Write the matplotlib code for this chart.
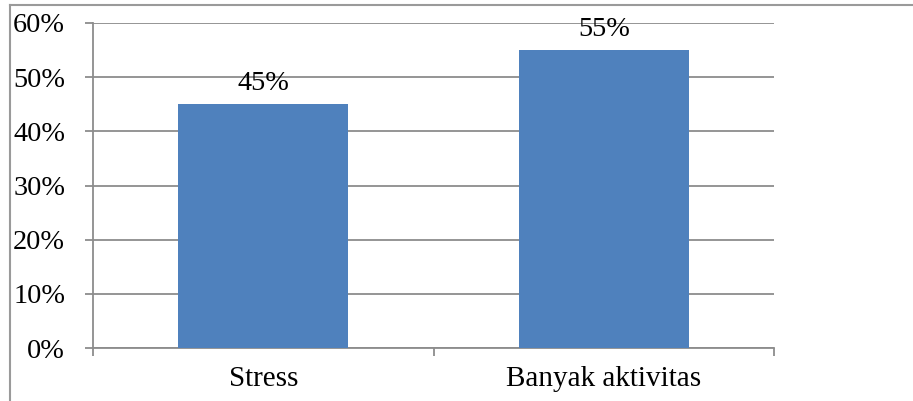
import matplotlib
matplotlib.use("Agg")
import matplotlib.pyplot as plt
from matplotlib.lines import Line2D
import numpy as np

categories = ["Stress", "Banyak aktivitas"]
values = [45, 55]
yticks = [0, 10, 20, 30, 40, 50, 60]

W, H = 913, 401
fig = plt.figure(figsize=(W / 100, H / 100), dpi=100)
plt.rcParams["font.family"] = ["Liberation Serif", "DejaVu Serif"]

ax = fig.add_axes([93 / W, 1 - 348 / H, 681 / W, 325 / H])

grid_c = "#8c8c8c"
bar_c = "#4f81bd"
fs = 20.3
fs_cat = 21

x = np.arange(len(categories))
ax.bar(x, values, width=0.5, color=bar_c, zorder=3)
for xi, v in zip(x, values):
    ax.text(xi, v + 2.6, f"{v}%", ha="center", va="baseline", fontsize=fs, color="black")

ax.set_xlim(-0.5, len(categories) - 0.5)
ax.set_ylim(0, 60)
ax.set_yticks(yticks)
ax.set_yticklabels([f"{t}%" for t in yticks], fontsize=fs)
ax.yaxis.grid(True, color=grid_c, linewidth=1.3, zorder=0)
ax.set_axisbelow(True)

# category labels between boundary ticks
ax.set_xticks(x)
ax.set_xticklabels(categories, fontsize=fs_cat)
ax.tick_params(axis="x", length=0, pad=13)
ax.set_xticks(np.arange(-0.5, len(categories)), minor=True)
ax.tick_params(axis="x", which="minor", length=6, width=1.3, color=grid_c, direction="out")
ax.tick_params(axis="y", length=6, width=1.3, color=grid_c, direction="out", pad=14)

for s in ["top", "right"]:
    ax.spines[s].set_visible(False)
for s in ["left", "bottom"]:
    ax.spines[s].set_color(grid_c)
    ax.spines[s].set_linewidth(1.3)

# outer frame
frame_c = "#9a9a9a"
fig.add_artist(Line2D([10 / W, 1], [1 - 5 / H, 1 - 5 / H], color=frame_c, linewidth=1.5,
                      transform=fig.transFigure))
fig.add_artist(Line2D([10 / W, 10 / W], [0, 1 - 5 / H], color=frame_c, linewidth=1.5,
                      transform=fig.transFigure))

fig.savefig("out.png", dpi=100)
